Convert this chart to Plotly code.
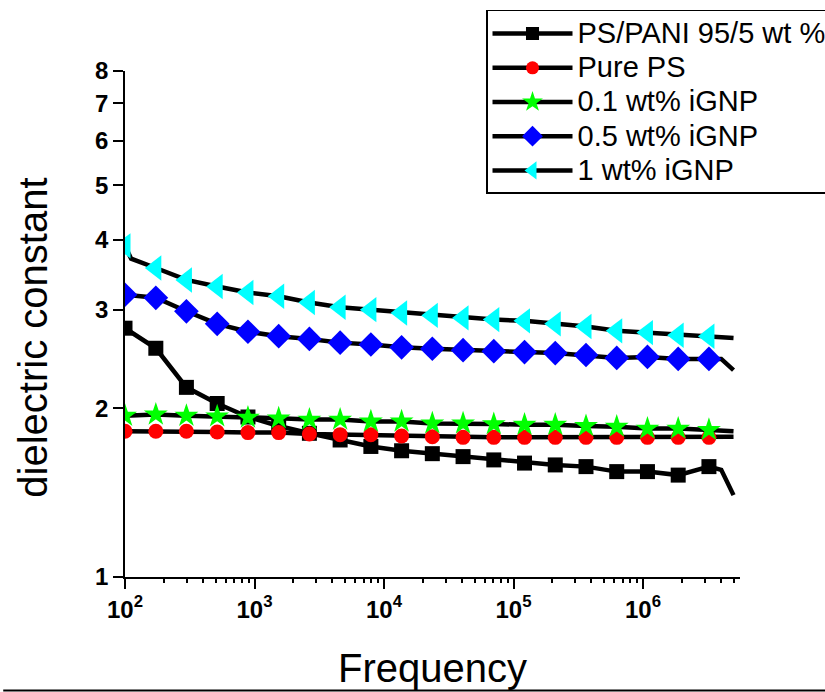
import plotly.graph_objects as go

# Measurement frequencies (Hz); every point that carries a marker is flagged below
freq_hz = [100, 111.5, 173, 298, 515, 890, 1537, 2654, 4584, 7917, 13673,
           23615, 40785, 70440, 121660, 210120, 362900, 626800, 1082500,
           1869600, 3229000, 4020000, 5000000]
show_marker = [True, False] + [True] * 19 + [False, False]

# Dielectric constant of each sample (None where no reading is plotted)
ps_pani = [2.78, None, 2.56, 2.18, 2.04, 1.93, 1.86, 1.805, 1.756, 1.71, 1.68,
           1.66, 1.64, 1.618, 1.597, 1.585, 1.574, 1.542, 1.542, 1.52, 1.574,
           1.553, 1.40]
pure_ps = [1.82, None, 1.82, 1.82, 1.815, 1.81, 1.81, 1.80, 1.795, 1.795, 1.785,
           1.78, 1.775, 1.775, 1.775, 1.775, 1.775, 1.775, 1.775, 1.775, 1.775,
           None, 1.78]
ignp_01 = [1.94, None, 1.95, 1.94, 1.935, 1.925, 1.92, 1.91, 1.91, 1.895, 1.895,
           1.88, 1.88, 1.875, 1.87, 1.87, 1.86, 1.855, 1.84, 1.84, 1.83,
           None, 1.82]
ignp_05 = [3.19, None, 3.15, 2.98, 2.83, 2.74, 2.69, 2.66, 2.62, 2.60, 2.57,
           2.555, 2.54, 2.53, 2.52, 2.51, 2.49, 2.46, 2.47, 2.45, 2.45,
           2.45, 2.34]
ignp_1 = [3.90, 3.70, 3.56, 3.39, 3.30, 3.22, 3.17, 3.09, 3.03, 3.00, 2.96,
          2.93, 2.90, 2.88, 2.865, 2.83, 2.80, 2.75, 2.73, 2.70, 2.69,
          None, 2.67]

series_names = ["PS/PANI 95/5 wt %", "Pure PS", "0.1 wt% iGNP",
                "0.5 wt% iGNP", "1 wt% iGNP"]
series_values = [ps_pani, pure_ps, ignp_01, ignp_05, ignp_1]

x_tick_vals = [1e2, 1e3, 1e4, 1e5, 1e6]
x_tick_text = ["10<sup>2</sup>", "10<sup>3</sup>", "10<sup>4</sup>",
               "10<sup>5</sup>", "10<sup>6</sup>"]
y_tick_vals = [1, 2, 3, 4, 5, 6, 7, 8]
y_tick_text = ["1", "2", "3", "4", "5", "6", "7", "8"]

# Marker styling per series
symbols = ["square", "circle", "star", "diamond", "triangle-left"]
colors = ["#000000", "#FF0000", "#00FF00", "#0000FF", "#00FFFF"]
sizes = [15, 15, 18, 19, 22]

FONT = "Liberation Sans, Arial, sans-serif"
LEGEND_TEXT_PX = 29

fig = go.Figure()
for name, vals, sym, col, sz in zip(series_names, series_values, symbols, colors, sizes):
    fig.add_trace(go.Scatter(
        x=freq_hz, y=vals, mode="lines+markers",
        name=f'<span style="font-size:{LEGEND_TEXT_PX}px">{name}</span>',
        connectgaps=True,
        line=dict(color="black", width=4.5),
        marker=dict(symbol=sym, color=col, opacity=1,
                    size=[sz if m else 0 for m in show_marker],
                    line=dict(width=0)),
    ))

minor_x = [m * 10 ** e for e in range(2, 7) for m in range(2, 10)]

axis_common = dict(
    showline=True, linecolor="black", linewidth=1.5,
    ticks="outside", ticklen=10, tickwidth=1.5, tickcolor="black",
    showgrid=False, zeroline=False,
    tickfont=dict(family=FONT, size=24, color="black", weight="bold"),
)

fig.update_layout(
    width=825, height=692,
    paper_bgcolor="white", plot_bgcolor="white",
    margin=dict(l=125, r=85, t=71, b=115, autoexpand=False),
    font=dict(family=FONT, color="black"),
    xaxis=dict(type="log", range=[2, 6.749], tickvals=x_tick_vals,
               ticktext=x_tick_text,
               minor=dict(tickvals=minor_x, ticks="outside", ticklen=4,
                          tickwidth=1.5, tickcolor="black", showgrid=False),
               **axis_common),
    yaxis=dict(type="log", range=[0, 0.90309], tickvals=y_tick_vals,
               ticktext=y_tick_text, **axis_common),
    legend=dict(x=0.587, y=1.1206, xanchor="left", yanchor="top",
                bgcolor="white", bordercolor="black", borderwidth=1.5,
                font=dict(family=FONT, size=24, color="black"),
                itemwidth=80, tracegroupgap=0),
    showlegend=True,
    annotations=[
        dict(text="Frequency", xref="paper", yref="paper", x=0.5, y=-0.18,
             xanchor="center", yanchor="middle", showarrow=False,
             font=dict(family=FONT, size=40, color="black")),
        dict(text="dielectric constant", xref="paper", yref="paper",
             x=-0.1496, y=0.473, xanchor="center", yanchor="middle",
             textangle=-90, showarrow=False,
             font=dict(family=FONT, size=40, color="black")),
    ],
    shapes=[
        dict(type="line", xref="paper", yref="paper", x0=-0.198, x1=1.14,
             y0=-0.2243, y1=-0.2243, line=dict(color="black", width=2)),
    ],
)

fig.write_html("out.html")
